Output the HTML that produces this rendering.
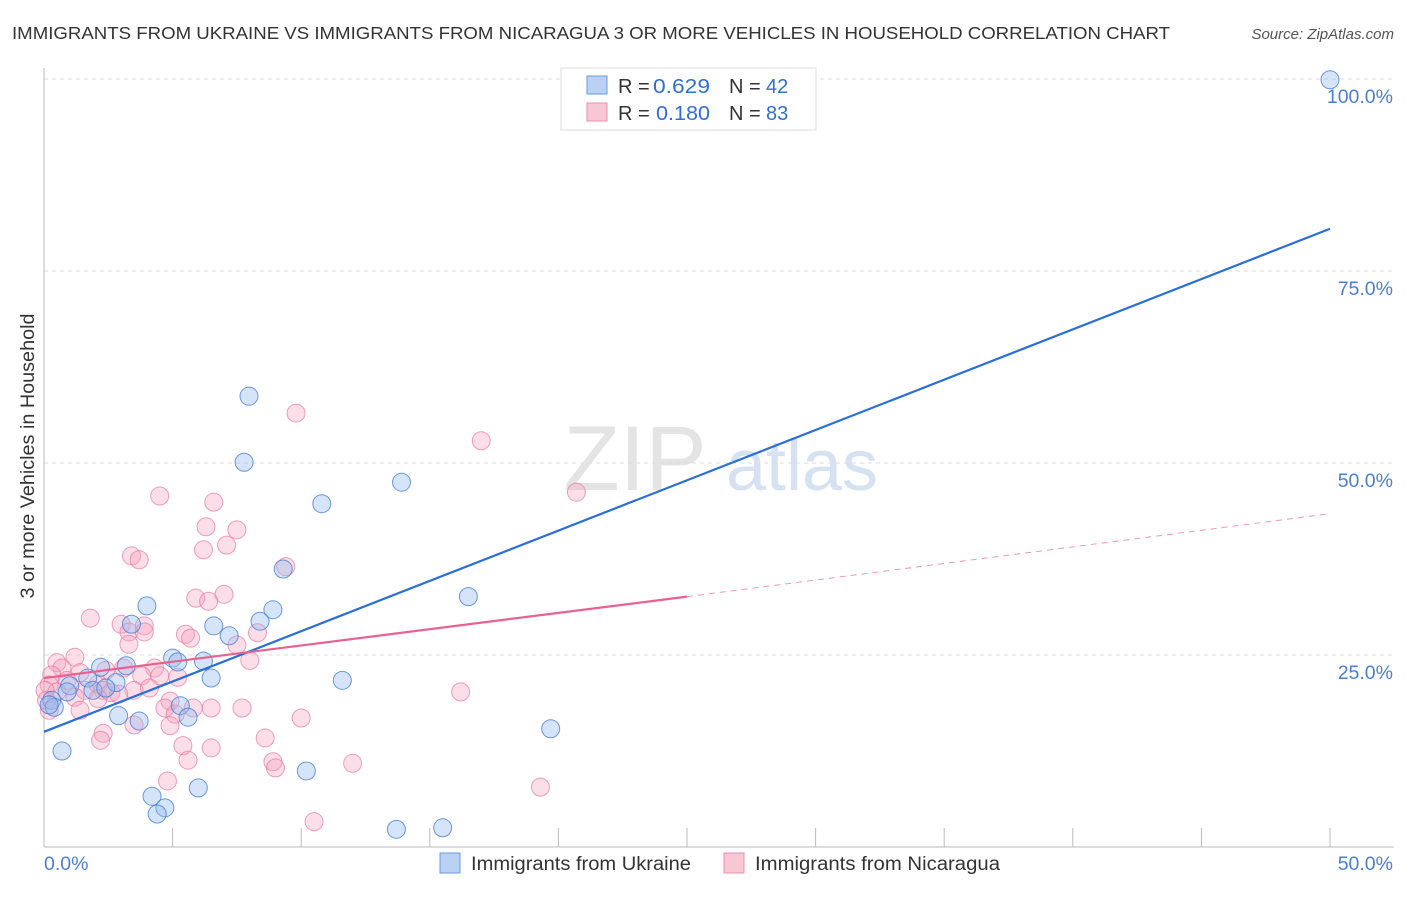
<!DOCTYPE html>
<html><head><meta charset="utf-8"><style>
body{margin:0;background:#fff;font-family:"Liberation Sans",sans-serif;}
svg text{font-family:"Liberation Sans",sans-serif;}
</style></head><body>
<svg id="chart" width="1406" height="892" xmlns="http://www.w3.org/2000/svg">
<text x="12" y="39" font-size="17.5" fill="#333" textLength="1158" lengthAdjust="spacingAndGlyphs">IMMIGRANTS FROM UKRAINE VS IMMIGRANTS FROM NICARAGUA 3 OR MORE VEHICLES IN HOUSEHOLD CORRELATION CHART</text>
<text x="1394" y="39" font-size="15" fill="#555" text-anchor="end" font-style="italic">Source: ZipAtlas.com</text>
<text transform="translate(34,456) rotate(-90)" font-size="19" fill="#333" text-anchor="middle" textLength="285" lengthAdjust="spacingAndGlyphs">3 or more Vehicles in Household</text>
<g>
<text x="635" y="490" font-size="92" fill="#e4e4e4" text-anchor="middle" font-family="Liberation Serif">ZIP</text>
<text x="802" y="490" font-size="72" fill="#d6e2f2" text-anchor="middle">atlas</text>
</g>
<g id="grid"></g>
<g id="axes"></g>
<g id="marks"></g>
<g>
<rect x="561" y="68" width="255" height="62" fill="#fff" stroke="#ddd"/>
<rect x="587" y="76" width="20" height="18" fill="#b9d1f3" stroke="#6a9be0"/>
<rect x="587" y="103" width="20" height="18" fill="#f8c7d6" stroke="#ee8fb0"/>
<text x="618" y="93" font-size="20" fill="#333">R =</text>
<text x="653" y="93" font-size="20" fill="#2f6fd6" textLength="57" lengthAdjust="spacingAndGlyphs">0.629</text>
<text x="729" y="93" font-size="20" fill="#333">N =</text>
<text x="766" y="93" font-size="20" fill="#2f6fd6">42</text>
<text x="618" y="120" font-size="20" fill="#333">R =</text>
<text x="656" y="120" font-size="20" fill="#2f6fd6" textLength="54" lengthAdjust="spacingAndGlyphs">0.180</text>
<text x="729" y="120" font-size="20" fill="#333">N =</text>
<text x="766" y="120" font-size="20" fill="#2f6fd6">83</text>
</g>
<g>
<rect x="440" y="853" width="20" height="20" fill="#b9d1f3" stroke="#6a9be0"/>
<text x="471" y="870" font-size="19" fill="#333" textLength="220" lengthAdjust="spacingAndGlyphs">Immigrants from Ukraine</text>
<rect x="724" y="853" width="20" height="20" fill="#f8c7d6" stroke="#ee8fb0"/>
<text x="755" y="870" font-size="19" fill="#333" textLength="245" lengthAdjust="spacingAndGlyphs">Immigrants from Nicaragua</text>
</g>
</svg>
<script>
const ukraineX=[50,7.97,7.78,13.9,10.8,9.3,16.5,4.0,8.9,8.4,3.4,6.6,7.2,5.0,5.2,6.2,3.2,2.2,6.5,11.6,1.7,2.8,1.0,1.9,2.4,0.9,0.3,0.4,5.3,2.9,3.7,5.6,19.7,0.7,10.2,6.0,4.2,4.7,4.4,13.7,15.5,0.2];
const ukraineY=[99.9,58.7,50.1,47.5,44.7,36.2,32.6,31.4,30.9,29.4,29.0,28.8,27.5,24.6,24.1,24.2,23.6,23.4,22.0,21.7,22.0,21.4,21.0,20.4,20.7,20.2,19.1,18.2,18.4,17.1,16.4,16.9,15.4,12.5,9.9,7.7,6.6,5.1,4.3,2.3,2.5,18.5];
const nicaraguaX=[9.8,17.0,20.7,4.5,6.6,6.3,7.5,7.1,6.2,3.4,3.7,9.4,7.0,5.9,6.4,1.8,3.0,3.9,3.3,3.9,5.5,5.7,8.3,3.3,7.5,8.0,1.2,0.5,0.7,1.4,2.4,3.1,4.3,3.8,4.5,5.2,0.3,0.9,0.2,2.1,1.6,2.3,2.6,3.5,4.1,0.5,16.2,1.2,2.1,4.9,0.2,1.4,4.7,5.8,6.5,7.7,5.1,3.5,10.0,4.9,2.3,2.2,8.6,5.4,6.5,5.6,8.9,9.0,12.0,4.8,19.3,10.5,0.04,0.1,2.9];
const nicaraguaY=[56.5,52.9,46.2,45.7,44.9,41.7,41.3,39.3,38.7,37.9,37.4,36.5,32.9,32.4,32.0,29.8,29.0,28.8,28.0,28.0,27.7,27.2,27.9,26.4,26.3,24.3,24.7,24.0,23.3,22.7,23.0,23.3,23.3,22.3,22.3,22.1,22.4,21.7,21.1,21.2,20.4,20.4,20.1,20.4,20.7,20.2,20.2,19.5,19.3,19.0,17.8,17.8,18.1,18.1,18.1,18.1,17.3,15.9,16.8,15.8,14.8,13.9,14.2,13.2,12.9,11.3,11.1,10.3,10.9,8.6,7.8,3.3,20.4,19.1,19.9];
const yTicks=[25,50,75,100];
const yTickLabels=["25.0%","50.0%","75.0%","100.0%"];
const xTicks=[0,5,10,15,20,25,30,35,40,45,50];
const ukraineTrend=[[0,15.0],[50,80.5]];
const nicaraguaTrend=[[0,22.0],[25,32.6],[50,43.4]];
const NS="http://www.w3.org/2000/svg";
const sx=v=>44+v*25.72, sy=v=>847-v*7.68;
function mk(tag,attrs,parent){const e=document.createElementNS(NS,tag);for(const k in attrs)e.setAttribute(k,attrs[k]);parent.appendChild(e);return e;}
const grid=document.getElementById('grid'),axes=document.getElementById('axes'),marks=document.getElementById('marks');
yTicks.forEach((t,i)=>{
 const g=mk('line',{x1:44,x2:1394,y1:sy(t),y2:sy(t),stroke:'#ddd','stroke-dasharray':'4,4'},grid);
 
 
 const l=mk('text',{x:1393,y:sy(t)+24,'font-size':19.5,fill:'#4a7fd4','text-anchor':'end'},axes);
 l.textContent=yTickLabels[i];
 
 
});
const ya=mk('line',{x1:44,x2:44,y1:68,y2:847,stroke:'#bbb'},axes);


const xa=mk('line',{x1:44,x2:1394,y1:847,y2:847,stroke:'#bbb'},axes);


xTicks.forEach(t=>{
 const tk=mk('line',{x1:sx(t),x2:sx(t),y1:828,y2:847,stroke:'#bbb'},axes);
 
 
});
const x0=mk('text',{x:44,y:870,'font-size':19.5,fill:'#4a7fd4'},axes);x0.textContent='0.0%';


const x1=mk('text',{x:1393,y:870,'font-size':19.5,fill:'#4a7fd4','text-anchor':'end'},axes);x1.textContent='50.0%';


nicaraguaX.forEach((x,i)=>{
 const c=mk('circle',{cx:sx(x),cy:sy(nicaraguaY[i]),r:9,fill:'rgba(244,160,188,0.35)',stroke:'rgba(232,120,160,0.7)','stroke-width':1},marks);
 
 
});
ukraineX.forEach((x,i)=>{
 const c=mk('circle',{cx:sx(x),cy:sy(ukraineY[i]),r:9,fill:'rgba(150,188,238,0.4)',stroke:'rgba(60,120,215,0.75)','stroke-width':1},marks);
 
 
});
const ut=mk('line',{x1:sx(ukraineTrend[0][0]),y1:sy(ukraineTrend[0][1]),x2:sx(ukraineTrend[1][0]),y2:sy(ukraineTrend[1][1]),stroke:'#2a6fd8','stroke-width':2.2},marks);


const nt=mk('line',{x1:sx(nicaraguaTrend[0][0]),y1:sy(nicaraguaTrend[0][1]),x2:sx(nicaraguaTrend[1][0]),y2:sy(nicaraguaTrend[1][1]),stroke:'#e8628f','stroke-width':2.2},marks);


const nd=mk('line',{x1:sx(nicaraguaTrend[1][0]),y1:sy(nicaraguaTrend[1][1]),x2:sx(nicaraguaTrend[2][0]),y2:sy(nicaraguaTrend[2][1]),stroke:'#eb9ab5','stroke-width':1,'stroke-dasharray':'6,5'},marks);


</script>
</body></html>
